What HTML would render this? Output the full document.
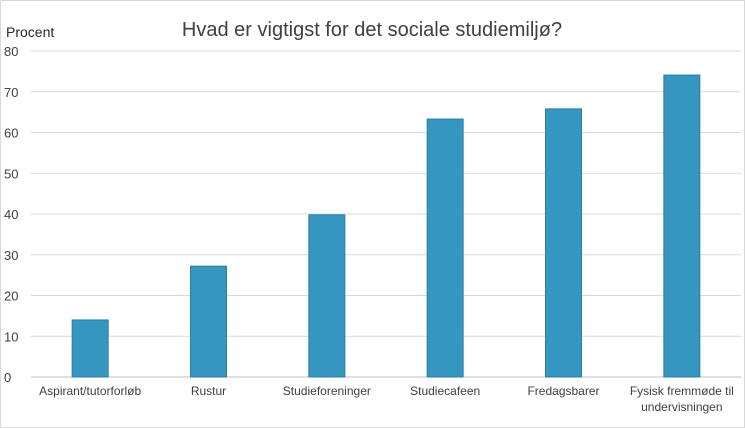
<!DOCTYPE html>
<html><head><meta charset="utf-8"><style>
body{margin:0;background:#fff;}
svg{display:block;font-family:"Liberation Sans",Arial,sans-serif;}
</style></head><body>
<svg id="chart" width="745" height="428">
<rect x="0.5" y="0.5" width="744" height="427" fill="#fff" stroke="#d9d9d9"/>
<text x="372" y="36" font-size="20" fill="#404040" text-anchor="middle">Hvad er vigtigst for det sociale studiemiljø?</text>
<text x="6" y="37" font-size="14" fill="#262626">Procent</text>
<g id="grid"></g><g id="bars"></g><g id="labels"></g>
</svg>
<script>
const categories=["Aspirant/tutorforløb","Rustur","Studieforeninger","Studiecafeen","Fredagsbarer","Fysisk fremmøde til|undervisningen"];
const values=[14.0,27.2,39.8,63.3,65.8,74.1];
const yTicks=[0,10,20,30,40,50,60,70,80];
const NS="http://www.w3.org/2000/svg";
const x0=31,x1=741,y0=377,yTop=51,yMax=80;
const y=v=>y0-(v/yMax)*(y0-yTop);
const band=(x1-x0)/categories.length;
const xc=i=>x0+band*(i+0.5);
const grid=document.getElementById('grid'),bars=document.getElementById('bars'),labels=document.getElementById('labels');
yTicks.forEach(t=>{
 const l=document.createElementNS(NS,'line');
 l.setAttribute('x1',x0);l.setAttribute('x2',x1);l.setAttribute('y1',y(t));l.setAttribute('y2',y(t));
 l.setAttribute('stroke',t===0?'#bfbfbf':'#d9d9d9');l.setAttribute('stroke-width','1');
 
 
 grid.appendChild(l);
 const tx=document.createElementNS(NS,'text');
 tx.setAttribute('x',4);tx.setAttribute('y',y(t)+5);tx.setAttribute('font-size','13');tx.setAttribute('fill','#404040');
 tx.textContent=t;
 
 
 labels.appendChild(tx);
});
const bw=36;
values.forEach((v,i)=>{
 const r=document.createElementNS(NS,'rect');
 r.setAttribute('x',xc(i)-bw/2);r.setAttribute('y',y(v));r.setAttribute('width',bw);r.setAttribute('height',y0-y(v));
 r.setAttribute('fill','#3596bf');r.setAttribute('stroke','#2a7fa6');r.setAttribute('stroke-width','1');
 
 
 bars.appendChild(r);
 const parts=categories[i].split('|');
 parts.forEach((p,j)=>{
  const tx=document.createElementNS(NS,'text');
  tx.setAttribute('x',xc(i));tx.setAttribute('y',395+j*16);tx.setAttribute('font-size','12');tx.setAttribute('fill','#404040');tx.setAttribute('text-anchor','middle');
  tx.textContent=p;
  
  
  labels.appendChild(tx);
 });
});
</script>
</body></html>
